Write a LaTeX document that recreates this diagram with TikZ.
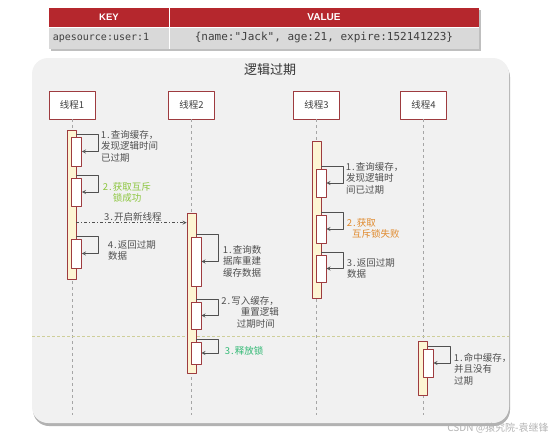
\documentclass[tikz,border=0pt]{standalone}
\usepackage{fontspec}
\setmainfont{Noto Sans CJK SC}
\newfontfamily\monofont{DejaVu Sans Mono}
\newfontfamily\headfont{Liberation Sans}
\definecolor{boxred}{HTML}{9E3B3F}
\definecolor{actyellow}{HTML}{FDF5D3}
\definecolor{txtgrey}{HTML}{505050}
\definecolor{okgreen}{HTML}{8CC63E}
\definecolor{relgreen}{HTML}{2EB872}
\definecolor{failorange}{HTML}{E0892B}
\definecolor{tabred}{HTML}{B5272D}
\definecolor{tabgrey}{HTML}{D9D9D9}
\definecolor{panelgrey}{HTML}{F1F1F1}
\definecolor{sepolive}{HTML}{CFCF9A}
\newcommand\stepno[1]{\makebox[4.8pt]{#1}\makebox[4.8pt]{.}}
\begin{document}
\begin{tikzpicture}[x=1pt,y=-1pt,line join=round,>=stealth]
				\tikzset{every node/.style={font=\fontsize{9.5}{11.5}\selectfont,inner sep=0pt},
					head/.style={draw=boxred,fill=white,thick,minimum width=46pt,minimum height=28pt,text=black!75,font=\fontsize{9.5}{11}\selectfont},
					act/.style={draw=boxred,fill=actyellow,thick,minimum width=9pt},
					sub/.style={draw=boxred,fill=white,thick,minimum width=10pt},
					msg/.style={text=txtgrey,align=left,anchor=north west},
					self/.style={draw=txtgrey,thick,->},
					call/.style={draw=txtgrey,thick,->,dash pattern=on 3pt off 2pt on 1pt off 2pt}}
				\useasboundingbox (0,0) rectangle (554,439);
				% key / value table
				\fill[black!25] (51,10) rectangle (481,51);
				\fill[tabred] (49,8) rectangle (479,27);
				\fill[tabgrey] (49,27) rectangle (479,49);
				\draw[white,thick] (169,8) -- (169,49) (49,27) -- (479,27);
				\node[font=\headfont\bfseries\fontsize{9.5}{11}\selectfont,text=white] (key) at (109,17.5) {KEY};
				\node[font=\headfont\bfseries\fontsize{10}{11}\selectfont,text=white] (value) at (324,17.5) {VALUE};
				\node[font=\monofont\fontsize{10}{11}\selectfont,text=black!75] (keyval) at (101,38) {apesource:user:1};
				\node[font=\monofont\fontsize{11}{12}\selectfont,text=black!75] (valueval) at (324,38) {\{name:"Jack", age:21, expire:152141223\}};
				% panel
				\fill[black!30,rounded corners=16pt] (33,61) rectangle (510,426);
				\fill[panelgrey,rounded corners=16pt] (32,58) rectangle (509,423);
				\node[font=\fontsize{13}{15}\selectfont,text=black!80] (title) at (270,70) {逻辑过期};
				% threads
				\foreach \n/\x in {1/72,2/191.5,3/316.5,4/423.5}{
					\node[head] (t\n) at (\x,105) {线程\n};
					\coordinate (e\n) at (\x,415);
					\draw[black!35,thick,dash pattern=on 3pt off 3pt] (t\n.south) -- (e\n);
				}
				\draw[sepolive,thick,dash pattern=on 3pt off 2pt] (32,336) -- (509,336);
				\node[act,minimum height=149pt] (a1) at (71.5,204.5) {};
				\node[act,minimum height=160pt] (a2) at (191.5,293) {};
				\node[act,minimum height=157pt] (a3) at (316.5,219.5) {};
				\node[act,minimum height=54pt] (a4) at (423,368) {};
				\foreach \b/\a/\x/\y/\h in {11/1/76.5/151.5/29,12/1/76.5/192/28,14/1/76.5/253.5/29,
					21/2/196/261.5/49,22/2/196/315.5/27,23/2/196/353/22,
					31/3/321/183/28,32/3/321/229/28,33/3/321/268.5/27,41/4/428/363/28}{
					\node[sub,minimum height=\h pt] (b\b) at (\x,\y) {};
					\coordinate (c\b) at ([yshift=2pt]b\b.north);
					\draw[self] (a\a.east |- c\b) -- ++(22,0) |- (b\b.east);
				}
				\coordinate (m3) at ([yshift=-10pt]a2.north west);
				\draw[call] (a1.east |- m3) -- (m3);
				% labels
				\node[msg] (l11) at (101,130) {\stepno1查询缓存，\\发现逻辑时间\\已过期};
				\node[msg,align=center,anchor=north,text=okgreen] (l12) at (127,182) {\stepno2获取互斥\\锁成功};
				\node[msg,anchor=center] (l13) at (133,217) {\stepno3开启新线程};
				\node[msg] (l14) at (108,240) {\stepno4返回过期\\数据};
				\node[msg] (l21) at (223,245) {\stepno1查询数\\据库重建\\缓存数据};
				\node[msg,align=right,anchor=north east] (l22) at (279,296) {\stepno2写入缓存，\\重置逻辑\hspace*{4pt}\\过期时间\hspace*{4pt}};
				\node[msg,text=relgreen] (l23) at (225,346) {\stepno3释放锁};
				\node[msg] (l31) at (346,162) {\stepno1查询缓存，\\发现逻辑时\\间已过期};
				\node[msg,text=failorange] (l32) at (347,218) {\stepno2获取\\\hspace*{5pt}互斥锁失败};
				\node[msg] (l33) at (347,258) {\stepno3返回过期\\数据};
				\node[msg] (l41) at (454,353) {\stepno1命中缓存，\\并且没有\\过期};
				\node[text=black!30,font=\fontsize{10}{10}\selectfont] (mark) at (498,428) {CSDN @猿究院-袁继锋};
			\end{tikzpicture}
\end{document}
